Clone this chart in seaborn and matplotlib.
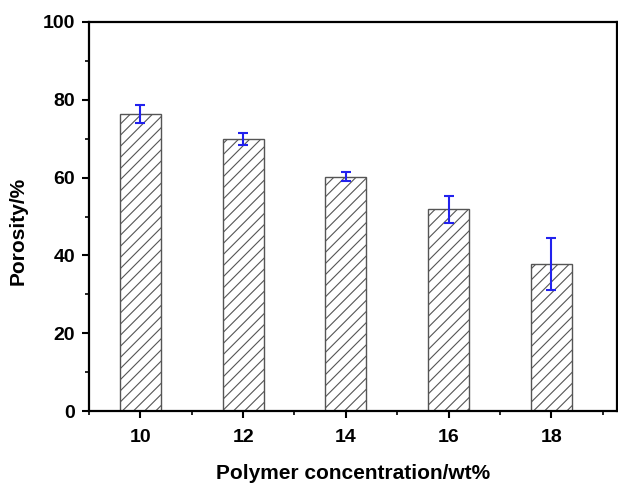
import matplotlib
matplotlib.use("Agg")
import matplotlib.pyplot as plt
import seaborn as sns
import pandas as pd
from matplotlib.ticker import MultipleLocator

concentration = [10, 12, 14, 16, 18]
porosity = [76.3, 69.9, 60.2, 51.8, 37.9]
error = [2.3, 1.6, 1.2, 3.5, 6.7]

sns.set_style("ticks")
plt.rcParams['font.family'] = ['Liberation Sans', 'DejaVu Sans']
plt.rcParams['hatch.color'] = '#555555'
plt.rcParams['hatch.linewidth'] = 0.8
plt.rcParams['text.color'] = 'black'
plt.rcParams['axes.labelcolor'] = 'black'
plt.rcParams['xtick.color'] = 'black'
plt.rcParams['ytick.color'] = 'black'

df = pd.DataFrame({"conc": concentration, "por": porosity})

fig = plt.figure(figsize=(6.18, 4.83), dpi=100)
ax = fig.add_axes([89/618, 72/483, (617-89)/618, (411-22)/483])

sns.barplot(data=df, x="conc", y="por", native_scale=True, width=0.4,
            color="white", edgecolor="#555555", linewidth=1.0,
            errorbar=None, ax=ax)
for p in ax.patches:
    p.set_hatch('///')

ax.errorbar(concentration, porosity, yerr=error, fmt='none', ecolor='#2222ee',
            elinewidth=1.5, capsize=3.5, capthick=1.5, zorder=5)

ax.set_xlim(9.0, 19.28)
ax.set_ylim(0, 100)
ax.set_xticks(concentration)
ax.xaxis.set_minor_locator(MultipleLocator(1))
ax.yaxis.set_major_locator(MultipleLocator(20))
ax.yaxis.set_minor_locator(MultipleLocator(10))

for s in ax.spines.values():
    s.set_visible(True)
    s.set_linewidth(1.6)
    s.set_color('black')

ax.tick_params(axis='both', which='major', direction='out', length=5, width=1.5,
               labelsize=14, pad=5, colors='black')
ax.tick_params(axis='x', which='major', pad=8)
ax.tick_params(axis='both', which='minor', direction='out', length=3, width=1.2,
               colors='black')
for lab in ax.get_xticklabels() + ax.get_yticklabels():
    lab.set_fontweight('bold')

ax.set_xlabel("Polymer concentration/wt%", fontsize=15, fontweight='bold',
              labelpad=13, color='black')
ax.set_ylabel("Porosity/%", fontsize=15, fontweight='bold', color='black')
ax.yaxis.set_label_coords(-0.117, 0.463)

fig.savefig("out.png", dpi=100)
